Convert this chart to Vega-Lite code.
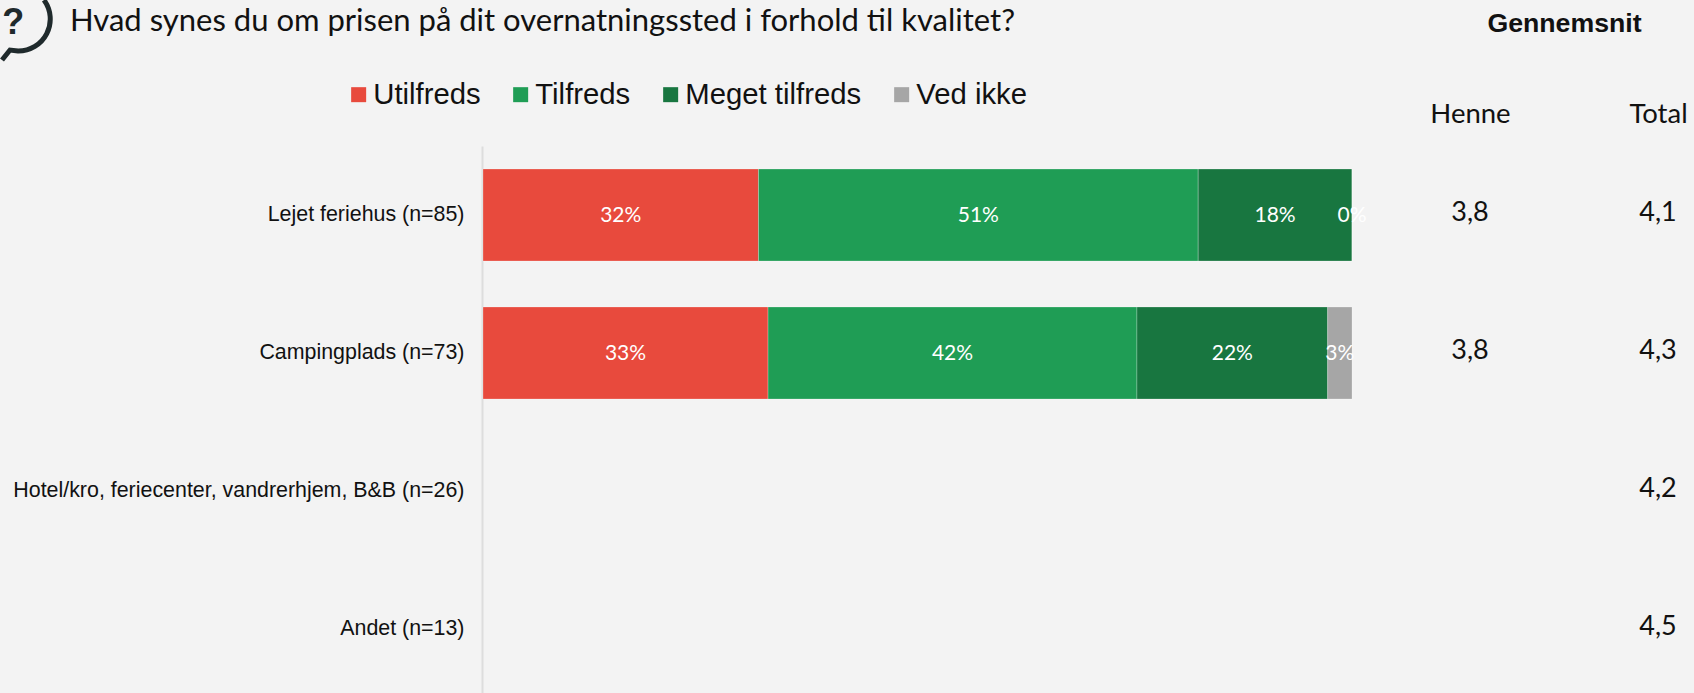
{"$schema":"https://vega.github.io/schema/vega-lite/v6.json","width":1211,"height":552,"autosize":{"type":"none"},"padding":{"left":483,"top":146,"right":0,"bottom":0},"background":"#f3f3f3","view":{"stroke":null},"config":{"locale":{"number":{"decimal":",","thousands":".","grouping":[3],"currency":["","kr"]}}},"title":{"text":"Hvad synes du om prisen på dit overnatningssted i forhold til kvalitet?","anchor":"start","frame":"group","dx":-413,"dy":67,"font":"Lato","fontSize":31,"fontWeight":400,"color":"#111111","baseline":"middle"},"datasets":{"shares":[{"row":"Lejet feriehus (n=85)","answer":"Utilfreds","order":1,"share":0.317},{"row":"Lejet feriehus (n=85)","answer":"Tilfreds","order":2,"share":0.506},{"row":"Lejet feriehus (n=85)","answer":"Meget tilfreds","order":3,"share":0.177},{"row":"Lejet feriehus (n=85)","answer":"Ved ikke","order":4,"share":0},{"row":"Campingplads (n=73)","answer":"Utilfreds","order":1,"share":0.328},{"row":"Campingplads (n=73)","answer":"Tilfreds","order":2,"share":0.4245},{"row":"Campingplads (n=73)","answer":"Meget tilfreds","order":3,"share":0.2195},{"row":"Campingplads (n=73)","answer":"Ved ikke","order":4,"share":0.028}],"means":[{"row":"Lejet feriehus (n=85)","column":"Henne","mean":3.8},{"row":"Lejet feriehus (n=85)","column":"Total","mean":4.1},{"row":"Campingplads (n=73)","column":"Henne","mean":3.8},{"row":"Campingplads (n=73)","column":"Total","mean":4.3},{"row":"Hotel/kro, feriecenter, vandrerhjem, B&B (n=26)","column":"Total","mean":4.2},{"row":"Andet (n=13)","column":"Total","mean":4.5}],"icon":[{"glyph":"?"}]},"layer":[{"data":{"name":"shares"},"transform":[{"stack":"share","groupby":["row"],"sort":[{"field":"order"}],"as":["v0","v1"]}],"mark":{"type":"bar","stroke":"#ffffff","strokeWidth":0.6,"strokeOpacity":0.4},"encoding":{"y":{"field":"row","type":"nominal","sort":["Lejet feriehus (n=85)","Campingplads (n=73)","Hotel/kro, feriecenter, vandrerhjem, B&B (n=26)","Andet (n=13)"],"scale":{"domain":["Lejet feriehus (n=85)","Campingplads (n=73)","Hotel/kro, feriecenter, vandrerhjem, B&B (n=26)","Andet (n=13)"],"paddingInner":0.333,"paddingOuter":0.1667},"axis":{"title":null,"ticks":false,"labelFont":"Liberation Sans","labelFontSize":21.4,"labelColor":"#111111","labelPadding":18,"labelLimit":480,"domainColor":"#dddddd","domainWidth":2,"offset":1}},"x":{"field":"v0","type":"quantitative","scale":{"domain":[0,1],"range":[0,869]},"axis":null},"x2":{"field":"v1"},"color":{"field":"answer","type":"nominal","scale":{"domain":["Utilfreds","Tilfreds","Meget tilfreds","Ved ikke"],"range":["#e84a3d","#1f9d55","#187640","#a6a6a6"]},"legend":{"title":null,"orient":"none","direction":"horizontal","legendX":-139,"legendY":-66,"symbolType":"square","symbolSize":225,"symbolStrokeWidth":0,"labelFont":"Liberation Sans","labelFontSize":29.3,"labelColor":"#111111","labelOffset":0,"columnPadding":25,"labelLimit":300}}}},{"data":{"name":"shares"},"transform":[{"stack":"share","groupby":["row"],"sort":[{"field":"order"}],"as":["v0","v1"]},{"calculate":"(datum.v0+datum.v1)/2","as":"mid"}],"mark":{"type":"text","font":"Lato","fontWeight":400,"fontSize":21,"color":"#ffffff","align":"center","baseline":"middle","dy":1},"encoding":{"y":{"field":"row","type":"nominal","scale":{"domain":["Lejet feriehus (n=85)","Campingplads (n=73)","Hotel/kro, feriecenter, vandrerhjem, B&B (n=26)","Andet (n=13)"],"paddingInner":0.333,"paddingOuter":0.1667},"axis":null},"x":{"field":"mid","type":"quantitative","scale":{"domain":[0,1],"range":[0,869]},"axis":null},"text":{"field":"share","type":"quantitative","format":".0%"}}},{"data":{"name":"means"},"mark":{"type":"text","font":"Lato","fontWeight":400,"fontSize":27,"color":"#111111","align":"center","baseline":"middle","dy":-2},"encoding":{"y":{"field":"row","type":"nominal","scale":{"domain":["Lejet feriehus (n=85)","Campingplads (n=73)","Hotel/kro, feriecenter, vandrerhjem, B&B (n=26)","Andet (n=13)"],"paddingInner":0.333,"paddingOuter":0.1667},"axis":null},"x":{"field":"column","type":"nominal","scale":{"type":"point","padding":0,"domain":["Henne","Total"],"range":[987,1175]},"axis":{"orient":"top","ticks":false,"domain":false,"labelAngle":0,"labelFont":"Lato","labelFontWeight":400,"labelFontSize":27.5,"labelColor":"#111111","labelPadding":18,"title":"Gennemsnit","titleFont":"Liberation Sans","titleFontWeight":"bold","titleFontSize":26.7,"titleColor":"#111111","titleX":1081,"titleY":-123,"titleAlign":"center","titleBaseline":"middle"}},"text":{"field":"mean","type":"quantitative","format":".1f"}}},{"data":{"name":"icon"},"mark":{"type":"point","filled":false,"size":4,"stroke":"#1f2a2c","strokeWidth":5,"opacity":1,"shape":"M -16 41 L -8 31 L 0 32 A 32 32 0 0 0 26 -19"},"encoding":{"x":{"datum":-0.5351,"type":"quantitative","scale":{"domain":[0,1],"range":[0,869]},"axis":null},"y":{"datum":1.23,"type":"quantitative","scale":{"domain":[0,1],"range":[552,0],"zero":false,"nice":false},"axis":null}}},{"data":{"name":"icon"},"mark":{"type":"text","font":"Liberation Sans","fontWeight":"bold","fontSize":36,"color":"#1f2a2c","align":"center","baseline":"middle"},"encoding":{"x":{"datum":-0.5406,"type":"quantitative","scale":{"domain":[0,1],"range":[0,869]},"axis":null},"y":{"datum":1.223,"type":"quantitative","scale":{"domain":[0,1],"range":[552,0],"zero":false,"nice":false},"axis":null},"text":{"field":"glyph"}}}],"resolve":{"scale":{"x":"independent","y":"independent","color":"independent"},"axis":{"x":"independent","y":"independent"}}}
